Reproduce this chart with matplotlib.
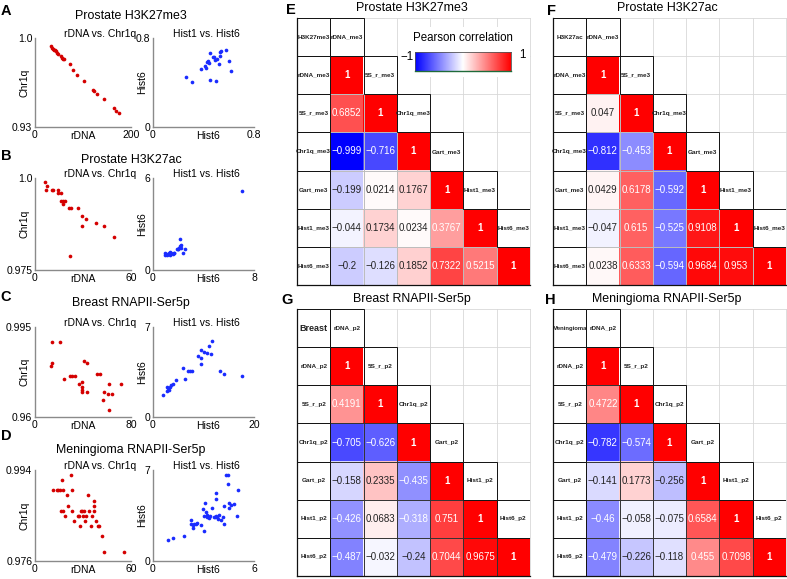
import numpy as np
import matplotlib
matplotlib.use("Agg")
import matplotlib.pyplot as plt
from matplotlib.colors import LinearSegmentedColormap
from matplotlib.patches import Rectangle

plt.rcParams['font.family'] = ['Liberation Sans', 'DejaVu Sans']

# ---------------- scatter data ----------------
# A: Prostate H3K27me3
a_rdna = [33.3, 36, 38, 40.2, 42.3, 43.8, 45.2, 47.9, 53.5, 57, 59, 61, 72.3, 78.5, 87.5,
          102.7, 120.2, 123, 129, 144.4, 164, 168, 175.6]
a_chr1q = [0.9935, 0.9924, 0.9916, 0.9908, 0.9903, 0.9895, 0.9884, 0.9876, 0.9858, 0.9843,
           0.9837, 0.9832, 0.9798, 0.9750, 0.9707, 0.9664, 0.9589, 0.9581, 0.9560, 0.9520,
           0.9449, 0.9428, 0.9408]
a_hist1 = [0.261, 0.311, 0.378, 0.409, 0.417, 0.430, 0.438, 0.444, 0.449, 0.451, 0.473, 0.483,
           0.493, 0.497, 0.505, 0.525, 0.531, 0.533, 0.539, 0.578, 0.600, 0.620]
a_hist6 = [0.452, 0.402, 0.521, 0.546, 0.533, 0.587, 0.593, 0.575, 0.668, 0.420, 0.632, 0.632,
           0.605, 0.411, 0.614, 0.566, 0.636, 0.674, 0.680, 0.695, 0.591, 0.506]

# B: Prostate H3K27ac
b_rdna = [6.25, 7.7, 7.1, 10.4, 11.5, 14.6, 14.2, 16.25, 16.25, 17.3, 18.5, 17.3, 21.25, 22.5,
          26.7, 29.6, 31.9, 29.6, 38.1, 43.3, 49.6, 22.1]
b_chr1q = [0.99883, 0.99791, 0.99682, 0.99682, 0.99682, 0.99682, 0.99584, 0.99584, 0.99383,
           0.99383, 0.99383, 0.99285, 0.99185, 0.99185, 0.99185, 0.98976, 0.98886, 0.98687,
           0.98785, 0.98687, 0.98389, 0.97889]
b_hist1 = [0.92, 0.92, 1.08, 1.0, 1.19, 1.29, 1.35, 1.45, 1.56, 1.64, 1.37, 1.87, 1.95, 2.06,
           2.14, 2.19, 2.22, 2.16, 2.35, 2.53, 2.0, 1.66, 7.05]
b_hist6 = [1.13, 0.98, 0.98, 1.07, 1.04, 1.13, 1.20, 1.13, 1.07, 1.13, 0.98, 1.35, 1.35, 1.46,
           1.54, 1.63, 1.41, 2.04, 1.09, 1.35, 1.35, 1.13, 5.15]

# C: Breast RNAPII-Ser5p
c_rdna = [14.4, 20.8, 14.4, 13.6, 24.4, 29.4, 31.1, 33.3, 36.4, 39.4, 39.2, 38.9, 39.4, 43.1,
          40.8, 43.1, 51.7, 54.4, 61.7, 71.4, 57.5, 60.6, 63.9, 56.7, 61.9]
c_chr1q = [0.98905, 0.98905, 0.98088, 0.97983, 0.97491, 0.97582, 0.97582, 0.97582, 0.97283,
           0.97361, 0.97155, 0.97063, 0.96984, 0.96984, 0.98191, 0.98088, 0.97685, 0.97685,
           0.97283, 0.97283, 0.96972, 0.96882, 0.96882, 0.96661, 0.96259]
c_hist1 = [1.91, 2.84, 2.97, 3.10, 2.84, 3.30, 3.63, 3.89, 4.49, 5.87, 6.34, 7.0, 7.39, 7.72,
           8.91, 9.50, 9.44, 9.57, 10.1, 10.7, 11.02, 11.49, 11.62, 13.33, 14.12, 17.69]
c_hist6 = [1.69, 2.36, 2.23, 2.12, 2.05, 2.31, 2.49, 2.59, 2.88, 3.79, 2.96, 3.55, 3.55, 3.55,
           4.72, 4.59, 5.19, 4.15, 5.08, 4.98, 5.50, 4.90, 5.91, 3.55, 3.37, 3.21]

# D: Meningioma RNAPII-Ser5p
d_rdna = [11.5, 13.5, 14.6, 15.6, 17.7, 17.1, 22.7, 23.3, 19.8, 33.3, 36.7, 20.8, 16.25, 17.7,
          23.1, 28.5, 29.6, 30.6, 33.5, 37.1, 36.9, 19.0, 26.7, 27.7, 29.8, 31.7, 35.8, 24.2,
          31.5, 38.1, 27.9, 35.0, 39.4, 40.2, 41.9, 42.9, 55.4]
d_chr1q = [0.98998, 0.98998, 0.98998, 0.98998, 0.98998, 0.99196, 0.99301, 0.98998, 0.98900,
           0.98900, 0.98793, 0.98694, 0.98595, 0.98595, 0.98595, 0.98595, 0.98595, 0.98595,
           0.98595, 0.98694, 0.98595, 0.98490, 0.98490, 0.98490, 0.98490, 0.98490, 0.98490,
           0.98391, 0.98391, 0.98391, 0.98286, 0.98286, 0.98286, 0.98286, 0.98089, 0.97784,
           0.97784]
d_hist1 = [0.87, 1.21, 1.84, 2.26, 2.28, 2.36, 2.40, 2.44, 2.53, 2.61, 2.83, 3.01, 3.05, 2.99,
           3.07, 3.13, 3.21, 3.19, 3.31, 3.39, 3.52, 3.60, 3.70, 3.74, 3.72, 3.74, 3.78, 3.86,
           3.94, 4.02, 4.24, 4.18, 4.24, 4.36, 4.47, 4.43, 4.49, 4.49, 4.65, 4.79, 5.01, 5.07]
d_hist6 = [1.59, 1.74, 1.95, 3.13, 2.82, 2.54, 2.74, 2.85, 2.85, 2.95, 2.77, 3.49, 2.31, 4.03,
           4.49, 3.74, 3.56, 3.36, 3.33, 3.46, 4.10, 3.36, 3.41, 3.46, 4.74, 5.21, 3.38, 3.26,
           3.56, 3.18, 2.82, 3.41, 4.23, 6.59, 6.59, 5.92, 4.44, 4.10, 4.33, 4.41, 3.46, 5.44]

# ---------------- heatmap data ----------------
e_header = "H3K27me3"
e_labels = ["rDNA_me3", "5S_r_me3", "Chr1q_me3", "Gart_me3", "Hist1_me3", "Hist6_me3"]
e_rows = [[1],
          [0.6852, 1],
          [-0.999, -0.716, 1],
          [-0.199, 0.0214, 0.1767, 1],
          [-0.044, 0.1734, 0.0234, 0.3767, 1],
          [-0.2, -0.126, 0.1852, 0.7322, 0.5215, 1]]

f_header = "H3K27ac"
f_labels = ["rDNA_me3", "5S_r_me3", "Chr1q_me3", "Gart_me3", "Hist1_me3", "Hist6_me3"]
f_rows = [[1],
          [0.047, 1],
          [-0.812, -0.453, 1],
          [0.0429, 0.6178, -0.592, 1],
          [-0.047, 0.615, -0.525, 0.9108, 1],
          [0.0238, 0.6333, -0.594, 0.9684, 0.953, 1]]

g_header = "Breast"
g_labels = ["rDNA_p2", "5S_r_p2", "Chr1q_p2", "Gart_p2", "Hist1_p2", "Hist6_p2"]
g_rows = [[1],
          [0.4191, 1],
          [-0.705, -0.626, 1],
          [-0.158, 0.2335, -0.435, 1],
          [-0.426, 0.0683, -0.318, 0.751, 1],
          [-0.487, -0.032, -0.24, 0.7044, 0.9675, 1]]

h_header = "Meningioma"
h_labels = ["rDNA_p2", "5S_r_p2", "Chr1q_p2", "Gart_p2", "Hist1_p2", "Hist6_p2"]
h_rows = [[1],
          [0.4722, 1],
          [-0.782, -0.574, 1],
          [-0.141, 0.1773, -0.256, 1],
          [-0.46, -0.058, -0.075, 0.6584, 1],
          [-0.479, -0.226, -0.118, 0.455, 0.7098, 1]]

# ---------------- figure ----------------
W, H = 787, 579
fig = plt.figure(figsize=(W / 100, H / 100), dpi=100)


def add_ax(x0, y0, x1, y1):
    return fig.add_axes([x0 / W, 1 - y1 / H, (x1 - x0) / W, (y1 - y0) / H])


def ftext(x, y, s, **kw):
    fig.text(x / W, 1 - y / H, s, **kw)


RED = '#d40000'
BLUE = '#1a2cff'
SPINE = '#8a8a8a'


def scatter_ax(x0, x1, y0, y1, xs, ys, color, xlim, ylim, xtl, ytl, title, title_x,
               xlabel, xlabel_x, ylabel):
    ax = add_ax(x0, y0, x1, y1)
    ax.scatter(xs, ys, s=7, color=color, linewidths=0, zorder=3)
    ax.set_xlim(*xlim)
    ax.set_ylim(*ylim)
    ax.set_xticks(list(xlim))
    ax.set_xticklabels(xtl)
    ax.set_yticks(list(ylim))
    ax.set_yticklabels(ytl)
    ax.tick_params(length=0, labelsize=7.5, pad=2)
    for s in ('top', 'right'):
        ax.spines[s].set_visible(False)
    for s in ('left', 'bottom'):
        ax.spines[s].set_color(SPINE)
        ax.spines[s].set_linewidth(1.0)
    ax.patch.set_alpha(0)
    ax.text(title_x, 0.985, title, transform=ax.transAxes, ha='center', va='bottom',
            fontsize=7.5)
    ax.set_xlabel(xlabel, fontsize=7.5)
    ax.xaxis.set_label_coords(xlabel_x, -0.04)
    ax.set_ylabel(ylabel, fontsize=7.5)
    ax.yaxis.set_label_coords(-0.06, 0.5)
    return ax


scatter_rows = [
    (38, 127, a_rdna, a_chr1q, a_hist1, a_hist6, (0, 200), (0.93, 1.0), ['0', '200'], ['0.93', '1.0'],
     (0, 0.8), (0, 0.8), ['0', '0.8'], ['0', '0.8'], "Prostate H3K27me3", "A", 16, 11),
    (178, 270, b_rdna, b_chr1q, b_hist1, b_hist6, (0, 60), (0.975, 1.0), ['0', '60'], ['0.975', '1.0'],
     (0, 8), (0, 6), ['0', '8'], ['0', '6'], "Prostate H3K27ac", "B", 160, 156),
    (327, 417, c_rdna, c_chr1q, c_hist1, c_hist6, (0, 80), (0.96, 0.995), ['0', '80'], ['0.96', '0.995'],
     (0, 20), (0, 7), ['0', '20'], ['0', '7'], "Breast RNAPII-Ser5p", "C", 303, 297),
    (470, 561, d_rdna, d_chr1q, d_hist1, d_hist6, (0, 60), (0.976, 0.994), ['0', '60'], ['0.976', '0.994'],
     (0, 6), (0, 7), ['0', '6'], ['0', '7'], "Meningioma RNAPII-Ser5p", "D", 450, 436),
]

for (y0, y1, lx, ly, rx, ry, lxl, lyl, lxt, lyt, rxl, ryl, rxt, ryt, ttl, let, ty, ly_) in scatter_rows:
    scatter_ax(35, 131, y0, y1, lx, ly, RED, lxl, lyl, lxt, lyt, "rDNA vs. Chr1q", 0.68,
               "rDNA", 0.5, "Chr1q")
    scatter_ax(153, 254, y0, y1, rx, ry, BLUE, rxl, ryl, rxt, ryt, "Hist1 vs. Hist6", 0.525,
               "Hist6", 0.54, "Hist6")
    ftext(131, ty, ttl, ha='center', va='center', fontsize=8.9)
    ftext(6, ly_, let, ha='center', va='center', fontsize=10.5, fontweight='bold')

# ---------------- heatmaps ----------------
cmap = LinearSegmentedColormap.from_list('bwr_pc', [(0, 0, 1), (1, 1, 1), (1, 0, 0)])


def fmt(v):
    return f"{v:g}".replace('-', '\u2212')


def heatmap(x0, y0, x1, y1, header, labels, rows, header_fs, value_edge, legend=False):
    ax = add_ax(x0, y0, x1, y1)
    n = len(labels) + 1
    M = np.full((n, n), np.nan)
    for i, row in enumerate(rows):
        for j, v in enumerate(row):
            M[i + 1, j + 1] = v
    ax.imshow(np.ma.masked_invalid(M), cmap=cmap, vmin=-1, vmax=1, extent=(0, n, n, 0),
              aspect='auto', interpolation='nearest', zorder=1)
    ax.set_xlim(0, n)
    ax.set_ylim(n, 0)
    ax.axis('off')
    for k in range(n + 1):
        ax.plot([k, k], [0, n], color='#d8d8d8', lw=0.6, zorder=0, clip_on=False)
        ax.plot([0, n], [k, k], color='#d8d8d8', lw=0.6, zorder=0, clip_on=False)
    if legend:
        ax.add_patch(Rectangle((3.03, 0.24), n - 3.03, 1.31, facecolor='white',
                               edgecolor='none', zorder=0.5))
    for i, row in enumerate(rows):
        for j, v in enumerate(row):
            r, c = i + 1, j + 1
            ax.add_patch(Rectangle((c, r), 1, 1, fill=False, edgecolor=value_edge, lw=0.6, zorder=2))
            white = abs(v) >= 0.3
            ax.text(c + 0.5, r + 0.5, fmt(v), ha='center', va='center', fontsize=7,
                    color='white' if white else '#222222',
                    fontweight='bold' if v == 1 else 'normal', zorder=4)
    cells = [(0, 0, header, header_fs)]
    for k, lab in enumerate(labels):
        cells.append((k, k + 1, lab, 4.6))
        cells.append((k + 1, 0, lab, 4.6))
    for r, c, s, fs in cells:
        ax.add_patch(Rectangle((c, r), 1, 1, facecolor='white', edgecolor='#111111', lw=0.7, zorder=3))
        ax.text(c + 0.5, r + 0.5, s, ha='center', va='center', fontsize=fs,
                fontweight='bold', color='#222222', zorder=4)
    ax.plot([0, 0], [0, n], color='#111111', lw=0.9, zorder=5, clip_on=False)
    ax.plot([0, n], [n, n], color='#111111', lw=0.9, zorder=5, clip_on=False)
    return ax


heatmap(297, 18, 530, 285, e_header, e_labels, e_rows, 4.6, '#bdbdbd', legend=True)
heatmap(553, 18, 786, 285, f_header, f_labels, f_rows, 4.6, '#bdbdbd')
heatmap(297, 309, 530, 576, g_header, g_labels, g_rows, 6.5, '#333333')
heatmap(553, 309, 786, 576, h_header, h_labels, h_rows, 4.2, '#333333')

# colour bar legend in E
cax = add_ax(415, 52, 511, 71)
cax.imshow(np.linspace(-1, 1, 256)[None, :], cmap=cmap, vmin=-1, vmax=1, aspect='auto',
           extent=(-1, 1, 0, 1))
cax.set_xticks([])
cax.set_yticks([])
for s in ('top', 'left', 'right'):
    cax.spines[s].set_color('#555555')
    cax.spines[s].set_linewidth(0.6)
cax.spines['bottom'].set_color('#1f6b3a')
cax.spines['bottom'].set_linewidth(1.0)
ftext(463, 38, "Pearson correlation", ha='center', va='center', fontsize=8.3)
ftext(407, 57, "\u22121", ha='center', va='center', fontsize=8.3)
ftext(522, 55, "1", ha='center', va='center', fontsize=8.3)

# heatmap titles and letters
ftext(412, 8, "Prostate H3K27me3", ha='center', va='center', fontsize=8.9)
ftext(291, 10, "E", ha='center', va='center', fontsize=10.5, fontweight='bold')
ftext(667, 8, "Prostate H3K27ac", ha='center', va='center', fontsize=8.9)
ftext(551, 11, "F", ha='center', va='center', fontsize=10.5, fontweight='bold')
ftext(412, 299, "Breast RNAPII-Ser5p", ha='center', va='center', fontsize=8.9)
ftext(287, 300, "G", ha='center', va='center', fontsize=10.5, fontweight='bold')
ftext(667, 299, "Meningioma RNAPII-Ser5p", ha='center', va='center', fontsize=8.9)
ftext(550, 300, "H", ha='center', va='center', fontsize=10.5, fontweight='bold')

fig.savefig("out.png", dpi=100)
